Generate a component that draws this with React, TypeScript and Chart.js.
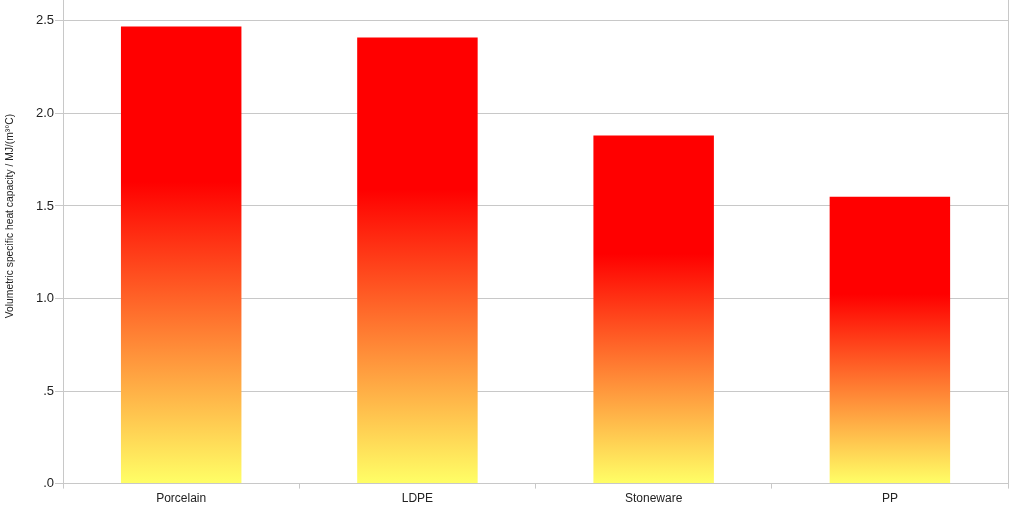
import React, { useEffect, useRef } from "react";
import { Chart, registerables } from "chart.js";

Chart.register(...registerables);

const categories = ["Porcelain", "LDPE", "Stoneware", "PP"];
const values = [2.47, 2.41, 1.88, 1.55];
const yTicks = [0, 0.5, 1.0, 1.5, 2.0, 2.5];
const yTickLabels = [".0", ".5", "1.0", "1.5", "2.0", "2.5"];
const yTitle = "Volumetric specific heat capacity / MJ/(m³°C)";

const extras = {
  id: "extras",
  afterDraw(chart: any) {
    const { ctx, chartArea } = chart;
    ctx.save();
    ctx.strokeStyle = "#c8c8c8";
    ctx.lineWidth = 1;
    ctx.beginPath();
    ctx.moveTo(Math.round(chartArea.right) + 0.5, 0);
    ctx.lineTo(Math.round(chartArea.right) + 0.5, chartArea.bottom);
    ctx.stroke();
    // y axis title
    ctx.translate(10, 226);
    ctx.rotate(-Math.PI / 2);
    ctx.fillStyle = "#222";
    ctx.font = "10.3px 'Liberation Sans'";
    ctx.textAlign = "center";
    ctx.textBaseline = "middle";
    ctx.fillText(yTitle, 0, 0);
    ctx.restore();
  },
};

export default function App() {
  const ref = useRef<HTMLCanvasElement>(null);
  useEffect(() => {
    if (!ref.current) return;
    const chart = new Chart(ref.current, {
      type: "bar",
      data: {
        labels: categories,
        datasets: [
          {
            data: values,
            barPercentage: 0.51,
            categoryPercentage: 1,
            borderWidth: 0,
            backgroundColor: (c: any) => {
              const ch = c.chart;
              if (!ch.chartArea || !ch.scales || !ch.scales.y) return "#ff0000";
              const v = c.parsed ? c.parsed.y : values[c.dataIndex];
              if (v == null) return "#ff0000";
              const y0 = ch.scales.y.getPixelForValue(0);
              const y1 = ch.scales.y.getPixelForValue(v);
              const g = ch.ctx.createLinearGradient(0, y0, 0, y1);
              g.addColorStop(0, "#ffff66");
              g.addColorStop(0.66, "#ff0000");
              g.addColorStop(1, "#ff0000");
              return g;
            },
          },
        ],
      },
      options: {
        animation: false,
        responsive: true,
        maintainAspectRatio: false,
        layout: { padding: { top: 0, right: 14, bottom: 0, left: 35 } },
        plugins: { legend: { display: false }, tooltip: { enabled: false } },
        scales: {
          x: {
            offset: true,
            grid: {
              offset: true,
              drawOnChartArea: false,
              drawTicks: true,
              tickLength: 5,
              color: "#c8c8c8",
            },
            border: { color: "#c8c8c8" },
            ticks: {
              color: "#222",
              font: { family: "Liberation Sans", size: 12 },
              padding: 3,
            },
          },
          y: {
            min: 0,
            max: 2.619,
            afterBuildTicks: (s: any) => {
              s.ticks = yTicks.map((v) => ({ value: v }));
            },
            grid: { color: "#c8c8c8", tickLength: 8 },
            border: { color: "#c8c8c8" },
            ticks: {
              color: "#222",
              font: { family: "Liberation Sans", size: 13 },
              padding: 1,
              callback: (v: any) => {
                const i = yTicks.indexOf(Number(v));
                return i >= 0 ? yTickLabels[i] : "";
              },
            },
          },
        },
      },
      plugins: [extras],
    });
    return () => chart.destroy();
  }, []);
  return (
    <div style={{ position: "fixed", left: 0, top: -10, width: 1022, height: 519, background: "#fff" }}>
      <canvas ref={ref} />
    </div>
  );
}
